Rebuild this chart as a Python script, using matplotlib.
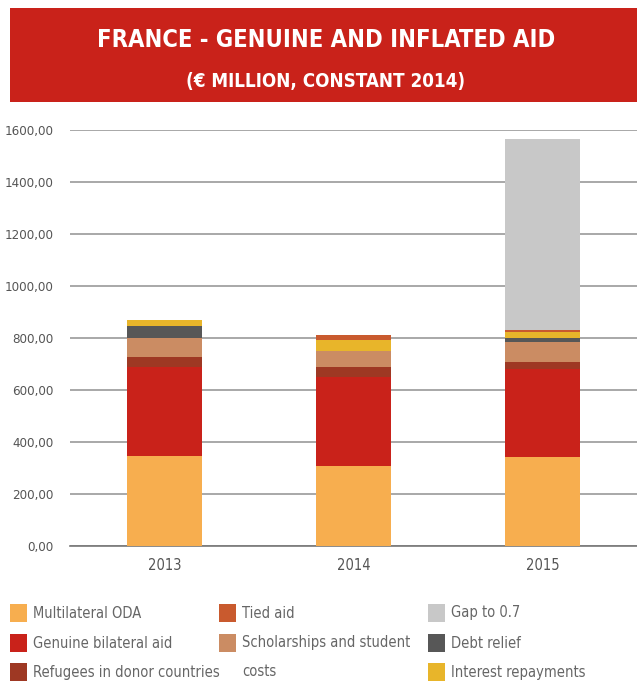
import matplotlib
matplotlib.use("Agg")
import matplotlib.pyplot as plt
import numpy as np
from matplotlib.patches import Rectangle

years = ["2013", "2014", "2015"]
multilateral = [346, 308, 342]
genuine_bilateral = [341, 341, 338]
refugees = [40, 39, 28]
scholarships = [73, 62, 77]
debt_relief = [47, 0, 15]
interest = [22, 42, 23]
tied_aid = [0, 20, 8]
gap_07 = [0, 0, 734]

series = [
    ("Multilateral ODA", multilateral, "#F7AE4F"),
    ("Genuine bilateral aid", genuine_bilateral, "#C9221A"),
    ("Refugees in donor countries", refugees, "#9E3823"),
    ("Scholarships and student\ncosts", scholarships, "#CB8C63"),
    ("Debt relief", debt_relief, "#575757"),
    ("Interest repayments", interest, "#E8B52A"),
    ("Tied aid", tied_aid, "#C95A2E"),
    ("Gap to 0.7", gap_07, "#C8C8C8"),
]
legend_order = ["Multilateral ODA", "Genuine bilateral aid", "Refugees in donor countries",
                "Tied aid", "Scholarships and student\ncosts", None,
                "Gap to 0.7", "Debt relief", "Interest repayments"]

plt.rcParams["font.family"] = ["DejaVu Sans"]
plt.rcParams["font.stretch"] = "condensed"

fig = plt.figure(figsize=(6.37, 6.84), dpi=100)

# title banner
fig.add_artist(Rectangle((10 / 637, 1 - 102 / 684), 627 / 637, 94 / 684,
                         transform=fig.transFigure, color="#C9221A", lw=0))
fig.text(326 / 637, 1 - 40 / 684, "FRANCE - GENUINE AND INFLATED AID", color="white",
         fontsize=17, fontweight="bold", ha="center", va="center")
fig.text(326 / 637, 1 - 81 / 684, "(€ MILLION, CONSTANT 2014)", color="white",
         fontsize=13.5, fontweight="bold", ha="center", va="center")

ax = fig.add_axes([70 / 637, 1 - 546 / 684, 567 / 637, 416 / 684])
x = np.arange(len(years))
bottom = np.zeros(len(years))
for name, vals, col in series:
    vals = np.array(vals, dtype=float)
    ax.bar(x, vals, width=0.4, bottom=bottom, color=col, zorder=3)
    bottom += vals

ax.set_xlim(-0.5, 2.5)
ax.set_ylim(0, 1600)
ax.set_yticks(np.arange(0, 1601, 200))
ax.set_yticklabels([f"{v},00" for v in range(0, 1601, 200)])
ax.set_xticks(x)
ax.set_xticklabels(years)
ax.yaxis.grid(True, color="#999999", lw=1.2, zorder=0)
for s in ["top", "right", "left"]:
    ax.spines[s].set_visible(False)
ax.spines["bottom"].set_color("#777777")
ax.spines["bottom"].set_linewidth(1.2)
ax.tick_params(axis="y", length=0, pad=12, labelsize=9.5, labelcolor="#555555")
ax.tick_params(axis="x", length=0, pad=9, labelsize=10.5, labelcolor="#555555")

colors = {name: col for name, vals, col in series}
col_x = [10, 219, 428]
row_y = [613, 643, 672]
for i, name in enumerate(legend_order):
    if name is None:
        continue
    cx = col_x[i // 3]
    cy = row_y[i % 3]
    fig.add_artist(Rectangle((cx / 637, 1 - (cy + 9) / 684), 17 / 637, 18 / 684,
                             transform=fig.transFigure, color=colors[name], lw=0))
    multiline = "\n" in name
    fig.text((cx + 23) / 637, 1 - (cy - 8 if multiline else cy) / 684, name,
             color="#666666", fontsize=10.5, ha="left",
             va="top" if multiline else "center", linespacing=2.15)

fig.savefig("out.png", dpi=100)
